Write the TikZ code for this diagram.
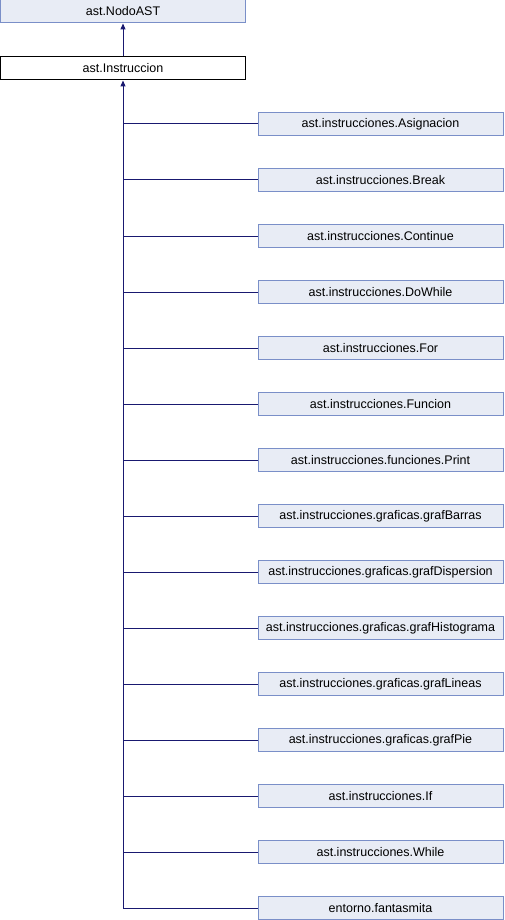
\documentclass[tikz,border=0pt]{standalone}
\usepackage{fontspec}
\setmainfont{Liberation Sans}
\usetikzlibrary{arrows.meta}
\definecolor{boxfill}{HTML}{E8ECF5}
\definecolor{boxline}{HTML}{7A8FC8}
\definecolor{edgeblue}{HTML}{191970}
\begin{document}
\begin{tikzpicture}[x=1pt,y=-1pt,
        derived/.style={draw=boxline,rectangle,fill=boxfill,line width=1pt,minimum width=245pt,minimum height=23pt,inner sep=0pt,font=\fontsize{12.5}{15}\selectfont},
        current/.style={draw=black,rectangle,fill=white,line width=1pt,minimum width=245pt,minimum height=23pt,inner sep=0pt,font=\fontsize{12.5}{15}\selectfont},
        edge/.style={draw=edgeblue,line width=1pt},
        inherit/.style={edge,-{Triangle[width=5pt,length=6pt]}}
      ]
      \useasboundingbox (0,0) rectangle (504,920);
      \node[derived] (nodoast) at (123,11.5) {ast.NodoAST};
      \node[current] (instruccion) at (123,68.5) {ast.Instruccion};
      \node[derived] (asignacion) at (380.5,124) {ast.instrucciones.Asignacion};
      \node[derived] (break) at (380.5,180) {ast.instrucciones.Break};
      \node[derived] (continue) at (380.5,236) {ast.instrucciones.Continue};
      \node[derived] (dowhile) at (380.5,292) {ast.instrucciones.DoWhile};
      \node[derived] (for) at (380.5,348) {ast.instrucciones.For};
      \node[derived] (funcion) at (380.5,404) {ast.instrucciones.Funcion};
      \node[derived] (print) at (380.5,460) {ast.instrucciones.funciones.Print};
      \node[derived] (grafbarras) at (380.5,516) {ast.instrucciones.graficas.grafBarras};
      \node[derived] (grafdispersion) at (380.5,572) {ast.instrucciones.graficas.grafDispersion};
      \node[derived] (grafhistograma) at (380.5,628) {ast.instrucciones.graficas.grafHistograma};
      \node[derived] (graflineas) at (380.5,684) {ast.instrucciones.graficas.grafLineas};
      \node[derived] (grafpie) at (380.5,740) {ast.instrucciones.graficas.grafPie};
      \node[derived] (if) at (380.5,796) {ast.instrucciones.If};
      \node[derived] (while) at (380.5,852) {ast.instrucciones.While};
      \node[derived] (fantasmita) at (380.5,908) {entorno.fantasmita};
      % inheritance
      \draw[inherit] (instruccion.north) -- (nodoast.south);
      \coordinate (trunk) at (fantasmita.west -| instruccion.south);
      \draw[inherit] (trunk) -- (instruccion.south);
      \draw[edge] (asignacion.west) -- (asignacion.west -| instruccion.south);
      \draw[edge] (break.west) -- (break.west -| instruccion.south);
      \draw[edge] (continue.west) -- (continue.west -| instruccion.south);
      \draw[edge] (dowhile.west) -- (dowhile.west -| instruccion.south);
      \draw[edge] (for.west) -- (for.west -| instruccion.south);
      \draw[edge] (funcion.west) -- (funcion.west -| instruccion.south);
      \draw[edge] (print.west) -- (print.west -| instruccion.south);
      \draw[edge] (grafbarras.west) -- (grafbarras.west -| instruccion.south);
      \draw[edge] (grafdispersion.west) -- (grafdispersion.west -| instruccion.south);
      \draw[edge] (grafhistograma.west) -- (grafhistograma.west -| instruccion.south);
      \draw[edge] (graflineas.west) -- (graflineas.west -| instruccion.south);
      \draw[edge] (grafpie.west) -- (grafpie.west -| instruccion.south);
      \draw[edge] (if.west) -- (if.west -| instruccion.south);
      \draw[edge] (while.west) -- (while.west -| instruccion.south);
      \draw[edge] (fantasmita.west) -- (trunk);
    \end{tikzpicture}
\end{document}
